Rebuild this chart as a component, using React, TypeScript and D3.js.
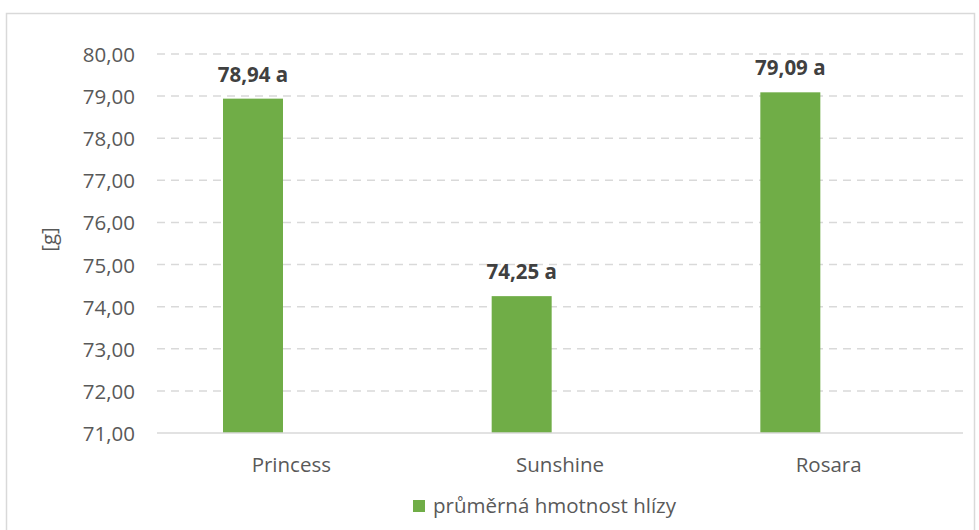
import React from "react";
import * as d3 from "d3";

const categories = ["Princess", "Sunshine", "Rosara"];
const values = [78.94, 74.25, 79.09];
const significance = ["a", "a", "a"];
const yTicks = [71, 72, 73, 74, 75, 76, 77, 78, 79, 80];
const seriesName = "průměrná hmotnost hlízy";
const yAxisTitle = "[g]";

const W = 979;
const H = 530;
const FONT = "'Open Sans', 'Noto Sans', sans-serif";
const FS = 20.5;

export default function App() {
  const left = 157;
  const right = 963;
  const top = 54;
  const bottom = 433;

  const x = d3.scaleBand<string>().domain(categories).range([left, right]).padding(0);
  const sub = d3
    .scaleBand<string>()
    .domain(["s1", "s2"])
    .range([0, x.bandwidth()])
    .paddingInner(0.2174)
    .paddingOuter(0.861);
  const y = d3.scaleLinear().domain([71, 80]).range([bottom, top]);
  const fmt = (v: number) => v.toFixed(2).replace(".", ",");

  return (
    <svg
      width={W}
      height={H}
      style={{ position: "fixed", left: 0, top: 0, background: "#fff" }}
      fontFamily={FONT}
    >
      <rect x={6.5} y={13.5} width={968} height={560} fill="#fff" stroke="#d9d9d9" strokeWidth={1.5} />
      {yTicks.map((t) => (
        <g key={t}>
          {t !== 71 && (
            <line
              x1={left}
              x2={right}
              y1={y(t)}
              y2={y(t)}
              stroke="#d9d9d9"
              strokeWidth={1.5}
              strokeDasharray="8,6"
            />
          )}
          <text x={135} y={y(t) + 8} textAnchor="end" fontSize={FS} fill="#595959">
            {fmt(t)}
          </text>
        </g>
      ))}
      {categories.map((c, i) => {
        const bx = (x(c) as number) + (sub("s1") as number);
        const bw = sub.bandwidth();
        return (
          <g key={c}>
            <rect x={bx} y={y(values[i])} width={bw} height={y(71) - y(values[i])} fill="#70ad47" />
            <text
              x={bx + bw / 2}
              y={y(values[i]) - 17}
              textAnchor="middle"
              fontSize={FS}
              fontWeight="bold"
              fill="#404040"
            >
              {fmt(values[i]) + " " + significance[i]}
            </text>
            <text
              x={(x(c) as number) + x.bandwidth() / 2}
              y={472}
              textAnchor="middle"
              fontSize={FS}
              fill="#595959"
            >
              {c}
            </text>
          </g>
        );
      })}
      <line x1={left} x2={right} y1={bottom} y2={bottom} stroke="#d9d9d9" strokeWidth={1.5} />
      <text
        transform={`translate(56,${(top + bottom) / 2 - 4}) rotate(-90)`}
        textAnchor="middle"
        fontSize={FS}
        fill="#595959"
      >
        {yAxisTitle}
      </text>
      <rect x={413} y={500} width={12} height={12} fill="#70ad47" />
      <text x={433} y={513} fontSize={FS} fill="#595959">
        {seriesName}
      </text>
    </svg>
  );
}
